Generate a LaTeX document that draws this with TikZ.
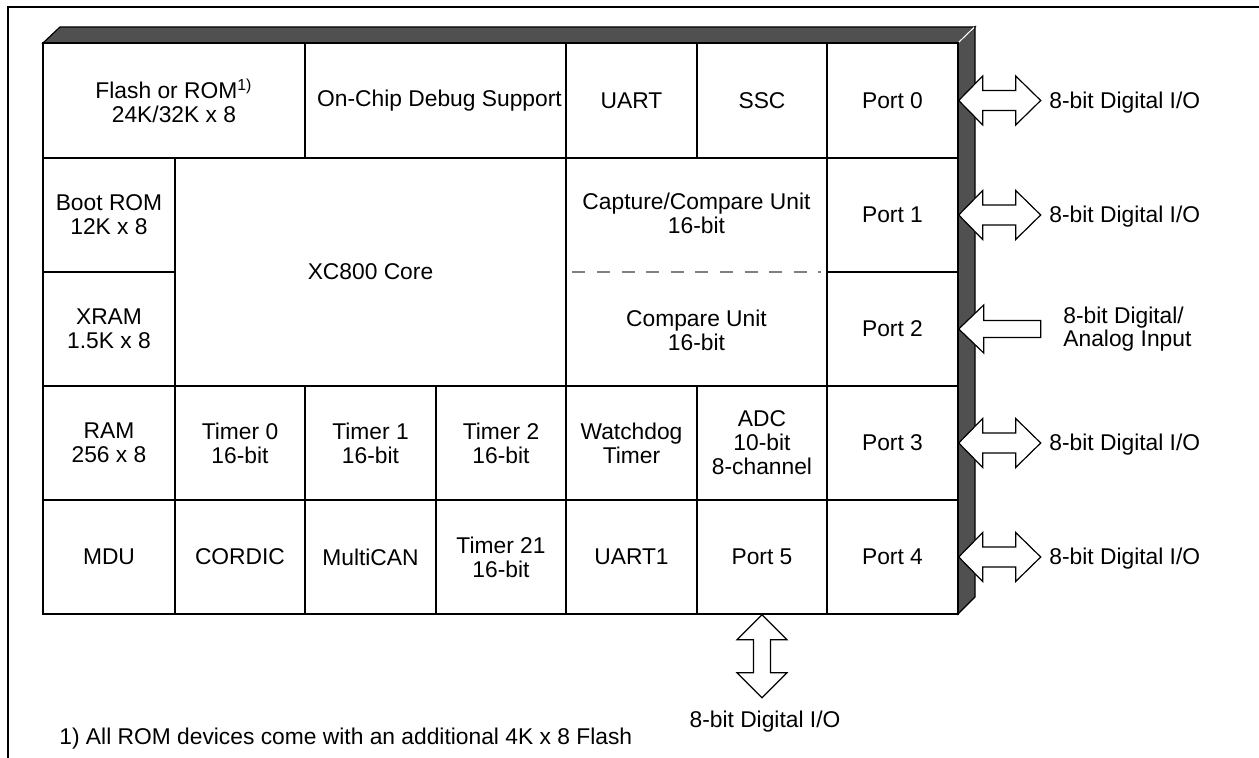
\documentclass[tikz,border=0pt]{standalone}
\usepackage{fontspec}
\setmainfont{Liberation Sans}
\definecolor{bandgray}{HTML}{505050}
\definecolor{dashgray}{HTML}{808080}
\def\cell(#1)(#2,#3)(#4,#5)#6{\node[cell, minimum width={(#4-#2)*0.5pt}, minimum height={(#5-#3)*0.5pt}] (#1) at ({(#2+#4)/2},{(#3+#5)/2}) {#6};}
\def\ioarrow(#1){\draw[blockarrow] (#1.east) -- ++(24,-24.5) -- ++(0,14.5) -- ++(33,0) -- ++(0,-14.5) -- ++(25,24.5) -- ++(-25,24.5) -- ++(0,-14.5) -- ++(-33,0) -- ++(0,14.5) -- cycle;}
\tikzset{
	cell/.style={draw, line width=0.7pt, inner sep=0pt, align=center},
	blockarrow/.style={draw, fill=white, line width=0.6pt, line join=miter},
	iolabel/.style={anchor=base west, inner sep=0pt},
}

\begin{document}
\begin{tikzpicture}[x=0.5pt, y=-0.5pt, font=\fontsize{11.4}{12}\selectfont]
			%%%%% START %%%%%
			\path[use as bounding box, fill=white] (0,0) rectangle (1259,758);
			\draw[line width=1.1pt] (1262,7) -- (8,7) -- (8,761);
			
			% chip body, top and side faces
			\draw[fill=bandgray, line width=0.6pt] (43,43) -- (60,27) -- (975,27) -- (958,43) -- cycle;
			\draw[fill=bandgray, line width=0.6pt] (958,43) -- (975,27) -- (975,597) -- (958,614) -- cycle;
			\draw[white, line width=0.6pt] (958.5,42.5) -- (974,27.5);
			
			% first row
			\cell(flash)(43,43)(305,158){Flash or ROM\textsuperscript{1)}\\24K/32K x 8}
			\cell(ocds)(305,43)(566,158){\hspace*{4pt}On-Chip Debug Support}
			\cell(uart)(566,43)(697,158){UART}
			\cell(ssc)(697,43)(827,158){SSC}
			\cell(port0)(827,43)(958,158){Port 0}
			
			% second and third row
			\cell(bootrom)(43,158)(175,272){Boot ROM\\12K x 8}
			\cell(xram)(43,272)(175,386){XRAM\\1.5K x 8}
			\cell(core)(175,158)(566,386){XC800 Core}
			\cell(ccu)(566,158)(827,386){}
			\node[align=center] (capcom) at (696.5,213) {Capture/Compare Unit\\16-bit};
			\node[align=center] (comp) at (696.5,330) {Compare Unit\\16-bit};
			\draw[dashgray, line width=0.8pt, dash pattern=on 6.5pt off 5.8pt, shorten <=3.5pt, shorten >=3.5pt] (ccu.west) -- (ccu.east);
			\cell(port1)(827,158)(958,272){Port 1}
			\cell(port2)(827,272)(958,386){Port 2}
			
			% fourth row
			\cell(ram)(43,386)(175,500){RAM\\256 x 8}
			\cell(tmr0)(175,386)(305,500){Timer 0\\16-bit}
			\cell(tmr1)(305,386)(436,500){Timer 1\\16-bit}
			\cell(tmr2)(436,386)(566,500){Timer 2\\16-bit}
			\cell(wdt)(566,386)(697,500){Watchdog\\Timer}
			\cell(adc)(697,386)(827,500){ADC\\10-bit\\8-channel}
			\cell(port3)(827,386)(958,500){Port 3}
			
			% fifth row
			\cell(mdu)(43,500)(175,614){MDU}
			\cell(cordic)(175,500)(305,614){CORDIC}
			\cell(mcan)(305,500)(436,614){MultiCAN}
			\cell(tmr21)(436,500)(566,614){Timer 21\\16-bit}
			\cell(uart1)(566,500)(697,614){UART1}
			\cell(port5)(697,500)(827,614){Port 5}
			\cell(port4)(827,500)(958,614){Port 4}
			
			% port arrows
			\ioarrow(port0);
			\ioarrow(port1);
			\ioarrow(port3);
			\ioarrow(port4);
			\draw[blockarrow] (port2.east) -- ++(25,-24) -- ++(0,15.5) -- ++(57,0) -- ++(0,17) -- ++(-57,0) -- ++(0,15.5) -- cycle;
			\draw[blockarrow] (port5.south) -- ++(25,25) -- ++(-16.5,0) -- ++(0,33) -- ++(16.5,0) -- ++(-25,25) -- ++(-25,-25) -- ++(16.5,0) -- ++(0,-33) -- ++(-16.5,0) -- cycle;
			
			\node[iolabel] (io0) at (1049,108.5) {8-bit Digital I/O};
			\node[iolabel] (io1) at (1049,223) {8-bit Digital I/O};
			\node[anchor=west, inner sep=0pt, align=left, font=\fontsize{11.4}{11.2}\selectfont] (ai2) at (1063,329) {8-bit Digital/\\Analog Input};
			\node[iolabel] (io3) at (1049,451) {8-bit Digital I/O};
			\node[iolabel] (io4) at (1049,565) {8-bit Digital I/O};
			\node[anchor=base, inner sep=0pt] (io5) at (765,728) {8-bit Digital I/O};
			
			\node[anchor=base west, inner sep=0pt] (note) at (59,745) {1) All ROM devices come with an additional 4K x 8 Flash};
			%%%%% END %%%%%
\end{tikzpicture}
\end{document}
